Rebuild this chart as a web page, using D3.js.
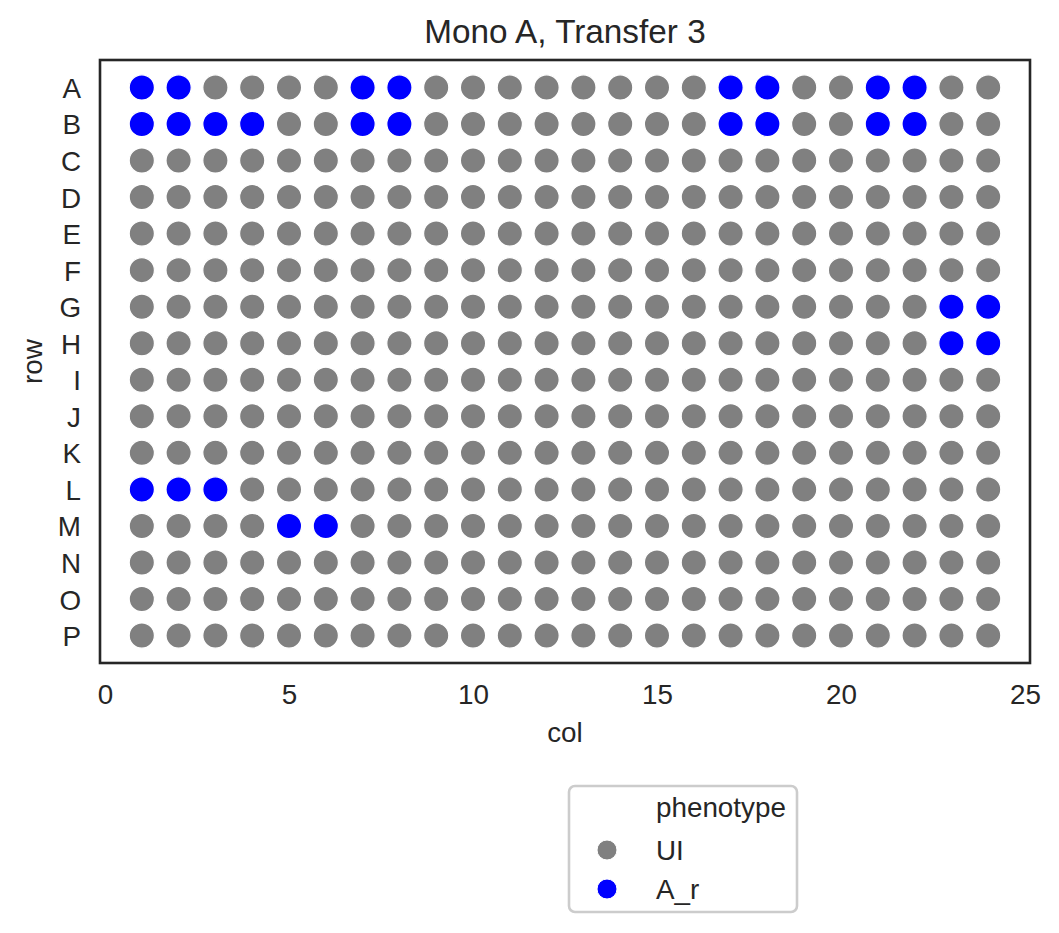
<!DOCTYPE html>
<html>
<head>
<meta charset="utf-8">
<script src="https://cdn.jsdelivr.net/npm/d3@7"></script>
<style>
  html, body { margin: 0; padding: 0; background: #fff; }
  svg { display: block; font-family: "Liberation Sans", Arial, sans-serif; }
</style>
</head>
<body>
<svg id="chart" width="1059" height="933"></svg>
<script>
// ---- data ----
const rows = ["A","B","C","D","E","F","G","H","I","J","K","L","M","N","O","P"];
const cols = [1,2,3,4,5,6,7,8,9,10,11,12,13,14,15,16,17,18,19,20,21,22,23,24];
const xTicks = [0,5,10,15,20,25];
const phenotypes = ["UI","A_r"];
const phenoColors = ["#808080","#0000ff"];
// wells scored A_r; every other well is UI
const arWells = [
  "A1","A2","A7","A8","A17","A18","A21","A22",
  "B1","B2","B3","B4","B7","B8","B17","B18","B21","B22",
  "G23","G24","H23","H24",
  "L1","L2","L3",
  "M5","M6"
];
const title = "Mono A, Transfer 3";
const xLabel = "col";
const yLabel = "row";
const legendTitle = "phenotype";

// ---- build records ----
const wells = [];
rows.forEach(r => cols.forEach(c => {
  wells.push({row: r, col: c, phenotype: arWells.includes(r + c) ? "A_r" : "UI"});
}));

// ---- layout ----
const svg = d3.select("#chart");
const L = 100, R = 1030, T = 60, B = 663;
const fontSize = 27.8;
const textColor = "#262626";

const x = d3.scaleLinear().domain([-0.136, 25.136]).range([L, R]);
const y = d3.scalePoint().domain(rows).range([T, B]).padding(0.75);
const color = d3.scaleOrdinal().domain(phenotypes).range(phenoColors);

// points (UI first, then A_r on top)
const order = d3.sort(wells, d => phenotypes.indexOf(d.phenotype));
svg.append("g").selectAll("circle")
  .data(order)
  .join("circle")
  .attr("cx", d => x(d.col))
  .attr("cy", d => y(d.row))
  .attr("r", 12.6)
  .attr("fill", d => color(d.phenotype))
  .attr("stroke", "#ffffff")
  .attr("stroke-width", 1.2);

// frame
svg.append("rect")
  .attr("x", L).attr("y", T).attr("width", R - L).attr("height", B - T)
  .attr("fill", "none").attr("stroke", textColor).attr("stroke-width", 2.6);

// x axis
const xAxis = svg.append("g")
  .attr("transform", `translate(0,${B})`)
  .call(d3.axisBottom(x).tickValues(xTicks).tickSize(0).tickPadding(0).tickFormat(d3.format("d")));
xAxis.select(".domain").remove();
xAxis.selectAll("text")
  .attr("dy", null).attr("y", 41)
  .attr("font-size", fontSize).attr("fill", textColor)
  .attr("font-family", "Liberation Sans, Arial, sans-serif");

// y axis
const yAxis = svg.append("g")
  .attr("transform", `translate(${L},0)`)
  .call(d3.axisLeft(y).tickSize(0).tickPadding(19));
yAxis.select(".domain").remove();
yAxis.selectAll("text")
  .attr("dy", "0.36em")
  .attr("font-size", fontSize).attr("fill", textColor)
  .attr("font-family", "Liberation Sans, Arial, sans-serif");

// labels
svg.append("text")
  .attr("x", (L + R) / 2).attr("y", 742)
  .attr("text-anchor", "middle")
  .attr("font-size", fontSize).attr("fill", textColor)
  .text(xLabel);
svg.append("text")
  .attr("transform", `translate(42,${(T + B) / 2}) rotate(-90)`)
  .attr("text-anchor", "middle")
  .attr("font-size", fontSize).attr("fill", textColor)
  .text(yLabel);
svg.append("text")
  .attr("x", (L + R) / 2).attr("y", 43)
  .attr("text-anchor", "middle")
  .attr("font-size", 33.3).attr("fill", textColor)
  .text(title);

// legend
const lg = svg.append("g");
lg.append("rect")
  .attr("x", 569).attr("y", 786).attr("width", 228).attr("height", 126)
  .attr("rx", 6).attr("ry", 6)
  .attr("fill", "#ffffff").attr("fill-opacity", 0.8)
  .attr("stroke", "#cccccc").attr("stroke-width", 2.6);
lg.append("text")
  .attr("x", 656).attr("y", 817)
  .attr("font-size", fontSize).attr("fill", textColor)
  .text(legendTitle);
const ly = d3.scalePoint().domain(phenotypes).range([850, 889]);
phenotypes.forEach(p => {
  lg.append("circle")
    .attr("cx", 607).attr("cy", ly(p)).attr("r", 10)
    .attr("fill", color(p)).attr("stroke", "#ffffff").attr("stroke-width", 1);
  lg.append("text")
    .attr("x", 656).attr("y", ly(p)).attr("dy", "0.36em")
    .attr("font-size", fontSize).attr("fill", textColor)
    .text(p);
});
</script>
</body>
</html>
